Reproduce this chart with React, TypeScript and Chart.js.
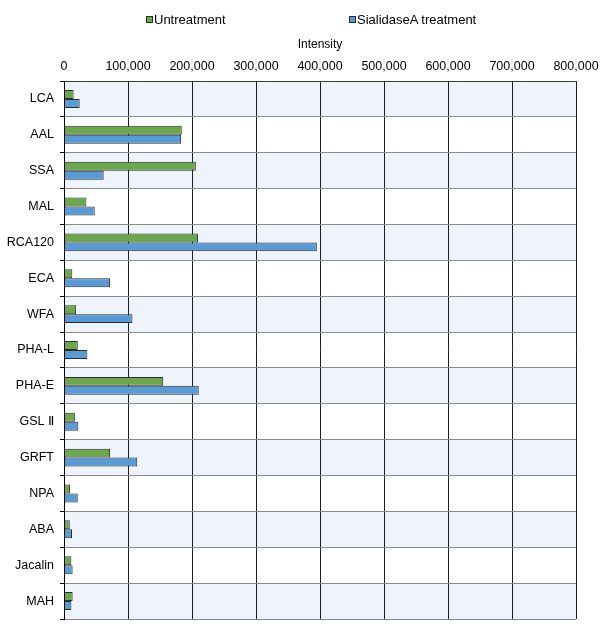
import React, { useEffect, useRef } from "react";
import { Chart, registerables } from "chart.js";

Chart.register(...registerables);

const categories = [
  "LCA", "AAL", "SSA", "MAL", "RCA120", "ECA", "WFA", "PHA-L", "PHA-E",
  "GSL Ⅱ", "GRFT", "NPA", "ABA", "Jacalin", "MAH",
];
const untreatment = [
  15000, 184000, 206000, 35000, 209500, 13000, 19000, 21500, 155000,
  17000, 72000, 9500, 9000, 11500, 13500,
];
const sialidaseA = [
  24500, 183000, 62000, 48000, 395000, 72000, 107000, 36500, 210500,
  22500, 114500, 21500, 12500, 13500, 11500,
];
const xTickLabels = [
  "0", "100,000", "200,000", "300,000", "400,000", "500,000", "600,000", "700,000", "800,000",
];
const seriesNames = ["Untreatment", "SialidaseA treatment"];
const seriesColors = ["#6ca64f", "#5b9bd5"];

const FONT = "'Liberation Sans', Arial, Helvetica, sans-serif";

const bandPlugin = {
  id: "bands",
  beforeDraw(chart: any) {
    const { ctx, chartArea, scales } = chart;
    const y = scales.y;
    const n = categories.length;
    const step = (chartArea.bottom - chartArea.top) / n;
    ctx.save();
    ctx.fillStyle = "#eff3fb";
    for (let i = 0; i < n; i += 2) {
      const c = y.getPixelForValue(i);
      ctx.fillRect(chartArea.left, c - step / 2, chartArea.right - chartArea.left, step);
    }
    ctx.restore();
  },
};

export default function App() {
  const ref = useRef<HTMLCanvasElement | null>(null);

  useEffect(() => {
    document.body.style.margin = "0";
    const canvas = ref.current;
    if (!canvas) return;
    const chart = new Chart(canvas, {
      type: "bar",
      data: {
        labels: categories,
        datasets: [
          {
            label: seriesNames[0],
            data: untreatment,
            backgroundColor: seriesColors[0],
            borderColor: "#2b2b2b",
            borderWidth: 1,
            borderSkipped: false,
            categoryPercentage: 0.5,
            barPercentage: 1.0,
          },
          {
            label: seriesNames[1],
            data: sialidaseA,
            backgroundColor: seriesColors[1],
            borderColor: "#2b2b2b",
            borderWidth: 1,
            borderSkipped: false,
            categoryPercentage: 0.5,
            barPercentage: 1.0,
          },
        ],
      },
      options: {
        indexAxis: "y",
        responsive: false,
        animation: false,
        layout: { padding: { top: 0, left: 0, right: 24, bottom: 15 } },
        plugins: {
          legend: { display: false },
          tooltip: { enabled: false },
        },
        scales: {
          x: {
            position: "top",
            min: 0,
            max: 800000,
            afterFit(scale: any) {
              scale.height = 81;
              scale.paddingLeft = 0;
              scale.paddingRight = 0;
            },
            ticks: {
              stepSize: 100000,
              color: "#000",
              padding: 6.5,
              maxRotation: 0,
              autoSkip: false,
              font: { family: FONT, size: 12.5 },
              callback: (_v: any, i: number) => xTickLabels[i],
            },
            grid: {
              color: "#1e1e1e",
              lineWidth: 1,
              drawTicks: false,
            },
            border: { display: true, color: "#3a3a3a", width: 1 },
            title: {
              display: true,
              text: "Intensity",
              color: "#000",
              font: { family: FONT, size: 12 },
              padding: { top: 37, bottom: 0 },
            },
          },
          y: {
            afterFit(scale: any) {
              scale.width = 64;
              scale.paddingTop = 0;
              scale.paddingBottom = 0;
            },
            ticks: {
              color: "#000",
              padding: 6,
              font: { family: FONT, size: 12.5 },
            },
            grid: {
              offset: true,
              color: (ctx: any) =>
                ctx.index === categories.length ? "#333333" : "#8a8a8a",
              tickColor: "#000",
              tickLength: 4,
              lineWidth: 1,
            },
            border: { display: true, color: "#000", width: 1 },
          },
        },
      },
      plugins: [bandPlugin],
    });
    return () => chart.destroy();
  }, []);

  const legendText: React.CSSProperties = {
    position: "absolute",
    top: 12,
    fontFamily: FONT,
    fontSize: 13,
    lineHeight: "16px",
    color: "#000",
    whiteSpace: "nowrap",
  };
  const box = (color: string): React.CSSProperties => ({
    display: "inline-block",
    width: 5,
    height: 5,
    background: color,
    border: "1px solid #2b2b2b",
    marginRight: 1,
    verticalAlign: "1px",
  });

  return (
    <div style={{ position: "relative", width: 600, height: 634, background: "#fff" }}>
      <canvas ref={ref} width={600} height={634} style={{ width: 600, height: 634, display: "block" }} />
      <div style={{ ...legendText, left: 146 }}>
        <span style={box(seriesColors[0])} />
        {seriesNames[0]}
      </div>
      <div style={{ ...legendText, left: 349 }}>
        <span style={box(seriesColors[1])} />
        {seriesNames[1]}
      </div>
    </div>
  );
}
